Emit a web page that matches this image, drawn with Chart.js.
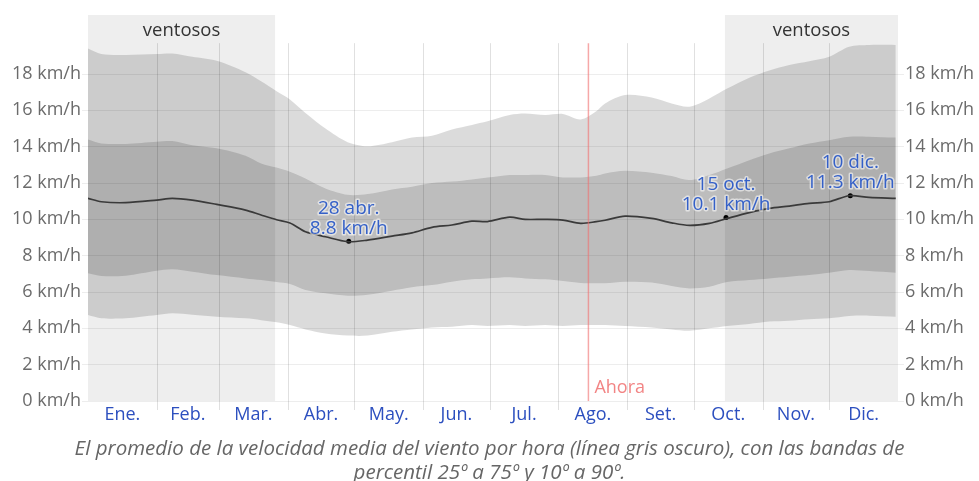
<!DOCTYPE html>
<html>
<head>
<meta charset="utf-8">
<script src="https://cdn.jsdelivr.net/npm/chart.js@4"></script>
<style>
  body { margin: 0; background: #fff; }
  #wrap { width: 979px; height: 481px; }
</style>
</head>
<body>
<div id="wrap"><canvas id="windChart" width="979" height="481"></canvas></div>
<script>
// Day of year (0 = 1 Jan) for the sampled values
const days = [0, 6, 17, 31, 38, 47, 58, 71, 78, 85, 91, 98, 107, 117, 126, 137, 146, 155, 164, 173, 180, 190, 197, 206, 214, 222, 229, 233, 242, 254, 263, 271, 280, 288, 298, 307, 316, 325, 334, 343, 352, 364]

// Percentile bands and the mean, km/h
const p90 = [19.4, 19.1, 19.05, 19.1, 19.13, 18.95, 18.73, 18.1, 17.6, 17.05, 16.6, 15.85, 15.0, 14.25, 14.03, 14.25, 14.5, 14.6, 14.95, 15.2, 15.4, 15.75, 15.83, 15.74, 15.8, 15.5, 15.95, 16.38, 16.84, 16.71, 16.38, 16.2, 16.66, 17.2, 17.8, 18.2, 18.5, 18.7, 18.95, 19.5, 19.6, 19.6]
const p75 = [14.4, 14.18, 14.15, 14.27, 14.31, 14.08, 13.91, 13.5, 13.08, 12.85, 12.62, 12.25, 11.7, 11.35, 11.39, 11.65, 11.8, 12.0, 12.08, 12.2, 12.3, 12.44, 12.44, 12.44, 12.31, 12.31, 12.4, 12.53, 12.68, 12.57, 12.38, 12.16, 12.44, 12.8, 13.26, 13.63, 13.91, 14.18, 14.36, 14.55, 14.55, 14.5]
const mean = [11.16, 10.97, 10.92, 11.06, 11.16, 11.06, 10.82, 10.51, 10.24, 9.98, 9.8, 9.32, 9.04, 8.77, 8.86, 9.08, 9.26, 9.56, 9.69, 9.9, 9.88, 10.12, 10.0, 10.0, 9.96, 9.78, 9.87, 9.95, 10.18, 10.05, 9.81, 9.67, 9.78, 10.05, 10.37, 10.6, 10.73, 10.88, 10.97, 11.3, 11.21, 11.16]
const p25 = [7.03, 6.88, 6.9, 7.17, 7.25, 7.12, 6.93, 6.75, 6.66, 6.55, 6.44, 6.11, 5.93, 5.8, 5.85, 6.07, 6.26, 6.38, 6.57, 6.7, 6.75, 6.81, 6.75, 6.7, 6.6, 6.5, 6.48, 6.48, 6.57, 6.52, 6.33, 6.2, 6.29, 6.55, 6.66, 6.75, 6.84, 6.93, 7.06, 7.21, 7.15, 7.06]
const p10 = [4.73, 4.55, 4.55, 4.73, 4.83, 4.75, 4.64, 4.55, 4.45, 4.33, 4.18, 3.94, 3.72, 3.6, 3.6, 3.81, 3.94, 4.05, 4.09, 4.18, 4.13, 4.18, 4.13, 4.18, 4.13, 4.18, 4.18, 4.18, 4.13, 4.05, 3.94, 3.87, 4.0, 4.13, 4.24, 4.37, 4.42, 4.5, 4.55, 4.68, 4.7, 4.64]

// Months
const months = ['Ene.', 'Feb.', 'Mar.', 'Abr.', 'May.', 'Jun.', 'Jul.', 'Ago.', 'Set.', 'Oct.', 'Nov.', 'Dic.']
const monthStarts = [0, 31, 59, 90, 120, 151, 181, 212, 243, 273, 304, 334, 365]

// Y axis ticks
const yTicks = [0, 2, 4, 6, 8, 10, 12, 14, 16, 18]

// Marked points
const markDays = [117.5, 287.5, 343.5]
const markValues = [8.8, 10.1, 11.3]
const markDates = ['28 abr.', '15 oct.', '10 dic.']

// Windy season(s) and "now"
const windyFrom = [0, 287]
const windyTo = [84.3, 365]
const windyLabel = 'ventosos'
const nowDay = 225.5
const nowLabel = 'Ahora'

const FONT = "'Open Sans', 'Noto Sans', sans-serif"
const bandColor = 'rgba(0,0,0,0.14)'

function pts (arr) {
  return days.map((d, i) => ({ x: d, y: arr[i] }))
}

const monthMids = months.map((m, i) => (monthStarts[i] + monthStarts[i + 1]) / 2)

// shaded windy periods, drawn below the grid
const windyShade = {
  id: 'windyShade',
  beforeDraw (chart) {
    const { ctx, chartArea, scales } = chart
    ctx.save()
    ctx.fillStyle = '#eeeeee'
    for (let i = 0; i < windyFrom.length; i++) {
      const x1 = scales.x.getPixelForValue(windyFrom[i])
      const x2 = scales.x.getPixelForValue(windyTo[i])
      ctx.fillRect(x1, chartArea.top, x2 - x1, chartArea.bottom - chartArea.top)
    }
    ctx.restore()
  },
  beforeDatasetsDraw (chart) {
    const { ctx, chartArea, scales } = chart
    ctx.save()
    // month separators
    ctx.strokeStyle = 'rgba(0,0,0,0.12)'
    ctx.lineWidth = 1
    const top = scales.y.getPixelForValue(19.7)
    for (let i = 1; i < monthStarts.length - 1; i++) {
      const x = Math.round(scales.x.getPixelForValue(monthStarts[i])) + 0.5
      ctx.beginPath()
      ctx.moveTo(x, top)
      ctx.lineTo(x, chartArea.bottom + 9)
      ctx.stroke()
    }
    // labels of the windy periods
    ctx.fillStyle = '#333'
    ctx.font = '18.5px ' + FONT
    ctx.textAlign = 'center'
    ctx.textBaseline = 'middle'
    for (let i = 0; i < windyFrom.length; i++) {
      const x = (scales.x.getPixelForValue(windyFrom[i]) + scales.x.getPixelForValue(windyTo[i])) / 2
      ctx.fillText(windyLabel, x, chartArea.top + 16)
    }
    ctx.restore()
  }
}

// "Ahora" line and point labels
const overlays = {
  id: 'overlays',
  afterDatasetsDraw (chart) {
    const { ctx, chartArea, scales } = chart
    ctx.save()
    const xn = scales.x.getPixelForValue(nowDay)
    ctx.strokeStyle = 'rgba(240,110,110,0.6)'
    ctx.lineWidth = 1.5
    ctx.beginPath()
    ctx.moveTo(xn, scales.y.getPixelForValue(19.7))
    ctx.lineTo(xn, chartArea.bottom)
    ctx.stroke()
    ctx.fillStyle = 'rgba(240,110,110,0.85)'
    ctx.font = '18px ' + FONT
    ctx.textAlign = 'left'
    ctx.textBaseline = 'middle'
    ctx.fillText(nowLabel, xn + 6, chartArea.bottom - 13)

    const meta = chart.getDatasetMeta(5)
    ctx.font = '19px ' + FONT
    ctx.textAlign = 'center'
    ctx.lineJoin = 'round'
    meta.data.forEach((pt, i) => {
      const lines = [markDates[i], markValues[i].toFixed(1) + ' km/h']
      lines.forEach((t, j) => {
        const y = pt.y - 33 + j * 20
        ctx.strokeStyle = 'rgba(255,255,255,0.55)'
        ctx.lineWidth = 3
        ctx.strokeText(t, pt.x, y)
        ctx.fillStyle = '#3460c8'
        ctx.fillText(t, pt.x, y)
      })
    })
    ctx.restore()
  }
}

const yCommon = {
  type: 'linear',
  min: 0,
  max: 21.25,
  afterBuildTicks: s => { s.ticks = yTicks.map(v => ({ value: v })) },
  border: { display: false },
  ticks: {
    callback: v => v + ' km/h',
    color: '#6b6b6b',
    font: { family: FONT, size: 18 },
    padding: 1
  }
}

new Chart(document.getElementById('windChart'), {
  type: 'line',
  data: {
    datasets: [
      { data: pts(p90), fill: '+1', backgroundColor: bandColor, borderWidth: 0, pointRadius: 0, tension: 0.3 },
      { data: pts(p10), fill: false, borderWidth: 0, pointRadius: 0, tension: 0.3 },
      { data: pts(p75), fill: '+1', backgroundColor: bandColor, borderWidth: 0, pointRadius: 0, tension: 0.3 },
      { data: pts(p25), fill: false, borderWidth: 0, pointRadius: 0, tension: 0.3 },
      { data: pts(mean), fill: false, borderColor: '#505050', borderWidth: 1.7, pointRadius: 0, tension: 0.3 },
      {
        data: markDays.map((d, i) => ({ x: d, y: markValues[i] })),
        showLine: false,
        pointRadius: 2.5,
        pointBackgroundColor: '#000',
        pointBorderWidth: 0
      }
    ]
  },
  options: {
    responsive: false,
    animation: false,
    layout: { padding: { top: 15, left: 0, right: 0, bottom: 0 } },
    plugins: {
      legend: { display: false },
      tooltip: { enabled: false },
      title: {
        display: true,
        position: 'bottom',
        text: [
          'El promedio de la velocidad media del viento por hora (línea gris oscuro), con las bandas de',
          'percentil 25º a 75º y 10º a 90º.'
        ],
        color: '#666',
        font: { family: FONT, size: 20.5, style: 'italic', weight: 'normal', lineHeight: '24px' },
        padding: { top: 4, bottom: -4 }
      }
    },
    scales: {
      x: {
        type: 'linear',
        min: 0,
        max: 365,
        afterBuildTicks: s => { s.ticks = monthMids.map(v => ({ value: v })) },
        afterFit: s => { s.height = 32 },
        grid: { display: false, drawTicks: false },
        border: { display: false },
        ticks: {
          callback: (v, i) => months[i],
          color: '#2c4fbf',
          font: { family: FONT, size: 18 },
          padding: 3,
          maxRotation: 0,
          autoSkip: false
        }
      },
      y: Object.assign({}, yCommon, {
        position: 'left',
        afterFit: s => { s.width = 88 },
        grid: { color: 'rgba(0,0,0,0.07)', tickLength: 6 }
      }),
      y2: Object.assign({}, yCommon, {
        position: 'right',
        afterFit: s => { s.width = 81 },
        grid: { color: 'rgba(0,0,0,0.07)', tickLength: 6, drawOnChartArea: false }
      })
    }
  },
  plugins: [windyShade, overlays]
})
</script>
</body>
</html>
